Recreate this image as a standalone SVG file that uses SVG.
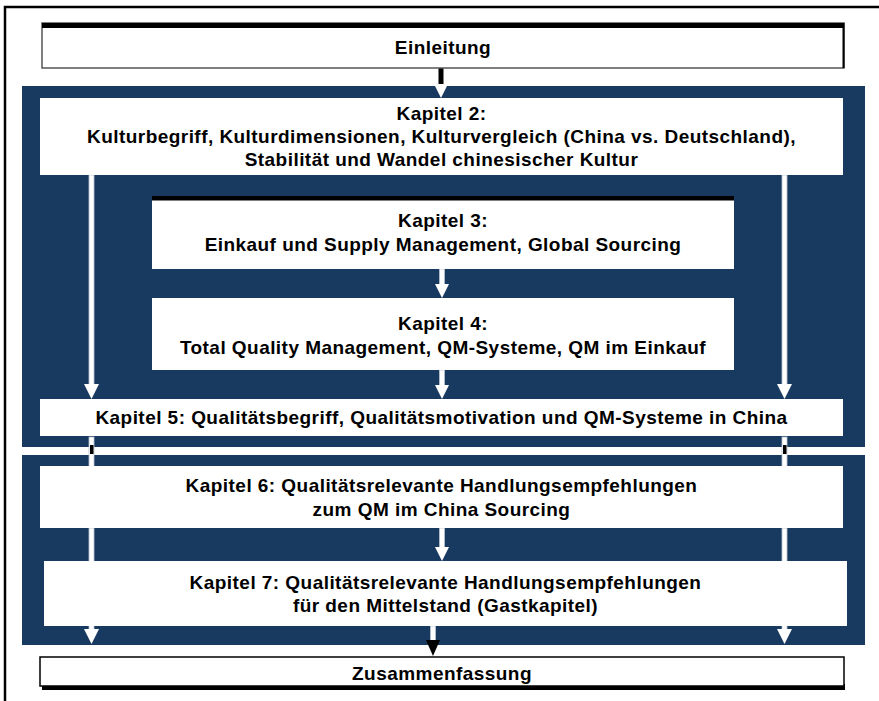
<svg xmlns="http://www.w3.org/2000/svg" width="879" height="701" viewBox="0 0 879 701">
<style>
.bg{fill:#183a60}
.box{fill:#ffffff}
.t{font-family:"Liberation Sans",Arial,sans-serif;font-weight:bold;font-size:19px;fill:#000;text-anchor:middle;letter-spacing:0.45px}
.wl{fill:#ffffff;stroke:#b8c2cc;stroke-width:0.8}
.wh{fill:#ffffff}
.bk{fill:#000000}
</style>
<rect x="0" y="0" width="879" height="701" fill="#ffffff"/>
<rect x="5" y="7" width="900" height="720" fill="none" stroke="#000" stroke-width="2.5"/>
<g id="bands">
<rect class="bg" x="22" y="86" width="843" height="361"/>
<rect class="bg" x="22" y="455" width="843" height="190"/>
</g>
<g id="connectors">
<rect class="bk" x="438.5" y="68" width="5" height="18"/>
<rect class="wh" x="438.5" y="86" width="5" height="4"/>
<polygon class="wh" points="434,84 448,84 441,98"/>
<rect class="wl" x="89" y="175" width="5" height="212"/>
<polygon class="wh" points="84,384 99,384 91.5,399"/>
<rect class="wl" x="782" y="175" width="5" height="212"/>
<polygon class="wh" points="777,384 792,384 784.5,399"/>
<rect class="wl" x="439.5" y="269" width="5" height="17"/>
<polygon class="wh" points="435,284 449,284 442,298"/>
<rect class="wl" x="439.5" y="370" width="5" height="17"/>
<polygon class="wh" points="435,385 449,385 442,399"/>
<rect class="wl" x="89" y="437" width="5" height="30"/>
<rect class="bk" x="90" y="445" width="3.5" height="9"/>
<rect class="wl" x="782" y="437" width="5" height="30"/>
<rect class="bk" x="783" y="445" width="3.5" height="9"/>
<rect class="wl" x="439.5" y="528" width="5" height="20"/>
<polygon class="wh" points="435,547 449,547 442,561"/>
<rect class="wl" x="89" y="528" width="5" height="104"/>
<polygon class="wh" points="84,629 99,629 91.5,644"/>
<rect class="wl" x="782" y="528" width="5" height="104"/>
<polygon class="wh" points="777,629 792,629 784.5,644"/>
<rect class="wl" x="430.5" y="626" width="5" height="15"/>
<polygon class="bk" points="426,640 440,640 433,656"/>
</g>
<g id="einleitung">
<rect x="42" y="23" width="802" height="45" fill="#fff" stroke="#555" stroke-width="1.5"/>
<rect class="bk" x="42" y="23" width="802" height="5"/>
<rect class="bk" x="842.5" y="23" width="2" height="45"/>
<text class="t" x="443" y="54">Einleitung</text>
</g>
<g id="kapitel2">
<rect class="box" x="40" y="98" width="803" height="77"/>
<text class="t" x="441.5" y="120">Kapitel 2:</text>
<text class="t" x="441.5" y="143">Kulturbegriff, Kulturdimensionen, Kulturvergleich (China vs. Deutschland),</text>
<text class="t" x="441.5" y="166">Stabilität und Wandel chinesischer Kultur</text>
</g>
<g id="kapitel3">
<rect class="box" x="152" y="196" width="582" height="73"/>
<rect class="bk" x="152" y="196" width="582" height="4.5"/>
<text class="t" x="443" y="227">Kapitel 3:</text>
<text class="t" x="443" y="251">Einkauf und Supply Management, Global Sourcing</text>
</g>
<g id="kapitel4">
<rect class="box" x="152" y="298" width="582" height="72"/>
<text class="t" x="443" y="330">Kapitel 4:</text>
<text class="t" x="443" y="354">Total Quality Management, QM-Systeme, QM im Einkauf</text>
</g>
<g id="kapitel5">
<rect class="box" x="40" y="399" width="803" height="37"/>
<text class="t" x="441.5" y="424">Kapitel 5: Qualitätsbegriff, Qualitätsmotivation und QM-Systeme in China</text>
</g>
<g id="kapitel6">
<rect class="box" x="40" y="466" width="803" height="62"/>
<text class="t" x="441.5" y="492">Kapitel 6: Qualitätsrelevante Handlungsempfehlungen</text>
<text class="t" x="441.5" y="516">zum QM im China Sourcing</text>
</g>
<g id="kapitel7">
<rect class="box" x="44" y="561" width="803" height="65"/>
<text class="t" x="445.5" y="589">Kapitel 7: Qualitätsrelevante Handlungsempfehlungen</text>
<text class="t" x="445.5" y="612">für den Mittelstand (Gastkapitel)</text>
</g>
<g id="zusammenfassung">
<rect class="bk" x="42" y="684" width="803" height="6"/>
<rect x="40" y="657" width="804" height="29" fill="#fff" stroke="#000" stroke-width="1.5"/>
<text class="t" x="442" y="680">Zusammenfassung</text>
</g>
</svg>
